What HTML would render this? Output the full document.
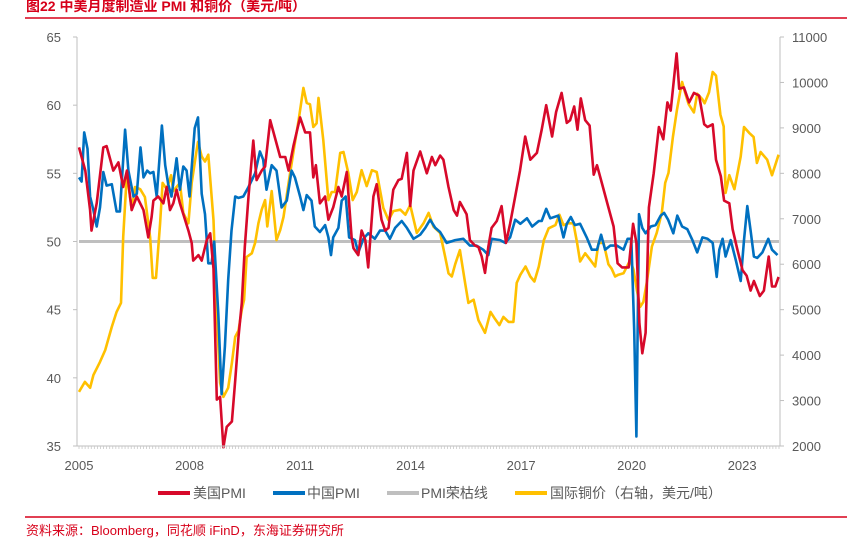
<!DOCTYPE html>
<html><head><meta charset="utf-8">
<style>
body{margin:0;background:#fff;width:847px;height:544px;overflow:hidden;font-family:"Liberation Sans","Noto Sans CJK SC",sans-serif;}
svg text{font-family:"Liberation Sans","Noto Sans CJK SC",sans-serif;}
</style></head><body>
<svg id="chart" width="847" height="544" xmlns="http://www.w3.org/2000/svg">
<text x="26" y="11" font-size="14" font-weight="bold" fill="#d7001a">图22  中美月度制造业 PMI 和铜价（美元/吨）</text>
<line x1="25" y1="18" x2="847" y2="18" stroke="#d7001a" stroke-width="1.5"/>
<g id="grid"></g><g id="series"></g><g id="axes"></g>
<g font-size="14" fill="#595959">
<g><line x1="158" y1="493" x2="190" y2="493" stroke="#d7092a" stroke-width="4"/><text x="193" y="498" fill="#595959">美国PMI</text></g>
<g><line x1="273" y1="493" x2="305" y2="493" stroke="#0070c0" stroke-width="4"/><text x="307" y="498" fill="#595959">中国PMI</text></g>
<g><line x1="387" y1="493" x2="419" y2="493" stroke="#bfbfbf" stroke-width="4"/><text x="421" y="498" fill="#595959">PMI荣枯线</text></g>
<g><line x1="515" y1="493" x2="547" y2="493" stroke="#ffc000" stroke-width="4"/><text x="550" y="498" fill="#595959">国际铜价（右轴，美元/吨）</text></g>
</g>
<line x1="25" y1="517" x2="847" y2="517" stroke="#d7001a" stroke-width="1.5"/>
<text x="26" y="535" font-size="13" fill="#d7001a">资料来源：Bloomberg，同花顺 iFinD，东海证券研究所</text>
</svg>
<script>
const xTickLabels=[2005,2008,2011,2014,2017,2020,2023];
const leftTicks=[35,40,45,50,55,60,65];
const rightTicks=[2000,3000,4000,5000,6000,7000,8000,9000,10000,11000];
const thresholdValue=50;
const usDates=[2005.0,2005.17,2005.3,2005.34,2005.48,2005.66,2005.75,2005.93,2006.07,2006.2,2006.3,2006.43,2006.57,2006.75,2006.88,2006.97,2007.02,2007.15,2007.29,2007.38,2007.47,2007.56,2007.65,2007.74,2007.97,2008.06,2008.1,2008.24,2008.33,2008.47,2008.56,2008.65,2008.74,2008.83,2008.92,2009.01,2009.15,2009.24,2009.33,2009.42,2009.5,2009.6,2009.73,2009.82,2009.96,2010.05,2010.19,2010.32,2010.46,2010.6,2010.69,2010.82,2011.0,2011.14,2011.27,2011.36,2011.43,2011.54,2011.68,2011.77,2011.9,2012.04,2012.13,2012.27,2012.4,2012.45,2012.58,2012.67,2012.77,2012.85,2012.99,2013.08,2013.21,2013.31,2013.4,2013.53,2013.67,2013.76,2013.9,2013.99,2014.08,2014.26,2014.44,2014.58,2014.67,2014.8,2014.89,2015.03,2015.17,2015.26,2015.34,2015.52,2015.61,2015.75,2015.84,2015.93,2016.02,2016.11,2016.2,2016.34,2016.47,2016.59,2016.7,2016.84,2016.97,2017.11,2017.25,2017.43,2017.56,2017.68,2017.84,2017.95,2018.1,2018.24,2018.33,2018.44,2018.53,2018.62,2018.74,2018.86,2018.97,2019.06,2019.19,2019.37,2019.51,2019.62,2019.74,2019.92,2020.04,2020.13,2020.21,2020.29,2020.38,2020.47,2020.6,2020.74,2020.86,2020.97,2021.06,2021.22,2021.29,2021.42,2021.56,2021.69,2021.83,2021.97,2022.06,2022.2,2022.29,2022.42,2022.51,2022.65,2022.74,2022.87,2023.01,2023.12,2023.23,2023.32,2023.48,2023.59,2023.72,2023.81,2023.9,2023.99];
const usValues=[56.9,55.2,52.3,50.8,52.8,56.9,57.0,55.2,55.8,54.0,55.2,52.3,53.3,52.3,50.3,51.8,53.0,53.3,52.8,54.0,52.3,52.8,53.8,52.8,50.8,49.9,48.6,49.0,48.6,50.1,50.6,48.0,38.4,38.6,34.9,36.4,36.8,39.8,43.0,45.5,49.6,53.3,57.4,54.5,55.2,55.5,58.9,57.6,56.2,56.2,55.2,57.0,59.1,58.0,58.0,54.7,55.6,52.8,53.3,51.6,52.5,54.0,53.3,55.1,50.3,49.5,49.0,50.8,50.1,48.1,53.3,54.2,51.6,50.8,51.0,53.8,54.5,54.6,56.5,52.6,55.2,56.6,55.0,56.2,55.6,56.3,56.0,54.0,52.3,51.9,52.9,52.0,50.1,49.7,49.6,48.9,47.7,49.6,51.0,51.5,52.6,49.9,51.3,53.3,55.2,57.7,56.0,56.5,58.2,60.0,57.7,59.5,60.9,58.7,58.9,59.9,58.2,60.5,58.9,58.5,54.9,55.6,54.3,52.5,51.1,48.4,48.1,48.1,51.3,49.9,44.0,41.8,43.3,52.5,55.0,58.4,57.5,60.2,59.6,63.8,61.2,61.3,60.2,60.9,60.7,58.6,58.4,58.6,56.0,54.8,53.0,52.8,50.9,49.4,47.9,47.5,46.4,47.1,46.0,46.4,48.9,46.7,46.7,47.4];
const cnDates=[2005.0,2005.07,2005.14,2005.23,2005.3,2005.39,2005.48,2005.57,2005.66,2005.75,2005.89,2006.02,2006.11,2006.25,2006.34,2006.48,2006.57,2006.67,2006.75,2006.85,2006.93,2007.02,2007.11,2007.25,2007.34,2007.42,2007.51,2007.65,2007.74,2007.83,2007.92,2008.0,2008.14,2008.23,2008.33,2008.42,2008.51,2008.6,2008.67,2008.78,2008.87,2008.96,2009.05,2009.14,2009.24,2009.33,2009.46,2009.6,2009.78,2009.91,2010.0,2010.09,2010.23,2010.36,2010.5,2010.64,2010.77,2010.86,2011.0,2011.09,2011.18,2011.31,2011.4,2011.54,2011.68,2011.77,2011.84,2011.9,2012.04,2012.13,2012.24,2012.33,2012.49,2012.58,2012.72,2012.85,2013.03,2013.17,2013.31,2013.44,2013.58,2013.76,2013.9,2014.08,2014.26,2014.4,2014.53,2014.67,2014.8,2014.98,2015.21,2015.43,2015.61,2015.79,2015.97,2016.11,2016.2,2016.43,2016.57,2016.7,2016.84,2016.98,2017.16,2017.3,2017.48,2017.56,2017.68,2017.79,2018.01,2018.15,2018.24,2018.35,2018.46,2018.6,2018.78,2018.92,2019.06,2019.17,2019.28,2019.42,2019.6,2019.78,2019.89,2019.99,2020.07,2020.13,2020.2,2020.29,2020.38,2020.52,2020.65,2020.79,2020.88,2020.99,2021.13,2021.24,2021.37,2021.51,2021.65,2021.78,2021.92,2022.06,2022.2,2022.31,2022.38,2022.47,2022.55,2022.69,2022.83,2022.96,2023.05,2023.14,2023.23,2023.32,2023.41,2023.55,2023.71,2023.81,2023.96];
const cnValues=[54.7,54.4,58.0,56.8,53.3,52.3,51.1,52.5,55.1,54.1,54.2,52.2,52.2,58.2,55.2,53.3,53.5,56.9,54.7,55.2,55.0,55.1,53.3,58.5,55.6,54.2,53.3,56.1,53.8,55.5,55.2,53.3,58.3,59.1,53.5,52.0,48.4,48.4,50.0,44.7,38.8,42.3,47.2,50.8,53.3,53.2,53.3,54.0,55.0,56.6,56.0,53.8,55.6,55.2,52.5,53.0,55.2,54.7,53.3,52.3,53.4,53.0,51.1,50.7,51.2,50.3,49.0,50.3,51.0,53.0,53.3,50.3,50.1,49.2,50.2,50.6,50.2,50.8,50.8,50.2,51.0,51.5,51.0,50.2,50.5,51.0,51.6,51.0,50.7,49.9,50.1,50.2,49.7,49.7,49.4,49.0,50.2,50.1,49.9,50.3,51.6,51.3,51.7,51.1,51.5,51.5,52.4,51.7,51.9,50.3,51.3,51.8,51.2,51.3,50.3,49.4,49.4,50.5,49.4,49.7,49.7,49.4,50.2,50.2,43.5,35.7,52.0,51.0,50.6,51.1,51.2,51.9,52.1,51.6,50.6,51.9,51.1,50.9,50.1,49.2,50.3,50.2,49.9,47.4,49.4,50.2,48.9,50.1,48.6,47.1,50.1,52.6,50.8,48.9,48.8,49.2,50.2,49.4,49.0];
const cuDates=[2005.0,2005.16,2005.3,2005.39,2005.57,2005.71,2005.89,2006.02,2006.14,2006.2,2006.3,2006.43,2006.52,2006.66,2006.79,2006.93,2007.0,2007.09,2007.2,2007.27,2007.38,2007.5,2007.56,2007.65,2007.74,2007.83,2007.97,2008.06,2008.18,2008.23,2008.33,2008.42,2008.51,2008.65,2008.74,2008.83,2008.92,2009.05,2009.15,2009.24,2009.33,2009.42,2009.48,2009.55,2009.69,2009.78,2009.87,2009.96,2010.05,2010.11,2010.23,2010.36,2010.46,2010.55,2010.69,2010.82,2010.96,2011.09,2011.18,2011.27,2011.36,2011.45,2011.5,2011.63,2011.77,2011.86,2011.95,2012.09,2012.18,2012.31,2012.43,2012.54,2012.67,2012.81,2012.95,2013.08,2013.26,2013.4,2013.53,2013.72,2013.86,2013.99,2014.17,2014.35,2014.49,2014.62,2014.8,2014.94,2015.03,2015.12,2015.21,2015.34,2015.48,2015.57,2015.71,2015.84,2016.02,2016.17,2016.29,2016.41,2016.52,2016.66,2016.79,2016.88,2016.98,2017.12,2017.25,2017.36,2017.48,2017.62,2017.75,2017.93,2018.04,2018.15,2018.29,2018.42,2018.52,2018.6,2018.74,2018.88,2019.01,2019.1,2019.24,2019.37,2019.46,2019.55,2019.64,2019.78,2019.96,2020.05,2020.14,2020.23,2020.32,2020.41,2020.55,2020.68,2020.82,2020.91,2021.0,2021.12,2021.23,2021.32,2021.37,2021.46,2021.55,2021.69,2021.78,2021.92,2021.98,2022.1,2022.2,2022.29,2022.41,2022.5,2022.55,2022.65,2022.79,2022.96,2023.05,2023.19,2023.31,2023.4,2023.5,2023.68,2023.81,2023.99];
const cuValues=[3190,3410,3280,3560,3850,4110,4620,4950,5150,6600,8010,7200,7700,7650,7480,6600,5700,5700,6900,7790,7650,7960,7610,7700,7790,7130,6900,7790,8450,8690,8370,8260,8410,6970,4930,3390,3080,3280,3830,4400,4540,5000,5220,6160,6240,6470,6900,7200,7410,6830,7610,6530,6750,7040,7790,8470,9170,9880,9550,9520,9020,9100,9660,8730,7410,7590,7590,8450,8470,8010,7410,7590,8070,7720,8070,8030,7240,6970,7170,7200,7090,7300,6690,6900,7130,6830,6690,6160,5800,5730,6000,6310,5590,5150,5220,4770,4490,4950,4800,4660,4840,4730,4730,5590,5770,5950,5730,5620,5950,6530,6790,6860,7090,6860,6900,6900,6470,6060,6240,6090,5950,6470,6470,6000,5900,5730,5770,5800,6090,5880,5440,5060,5170,5590,6390,6690,7130,7790,8010,8800,9390,9810,10010,9750,9520,9340,9750,9630,9540,9780,10230,10150,9290,9030,7570,7960,7650,8370,9020,8890,8800,8230,8470,8300,7960,8410];

const X0=79,X1=779,Y0=37,Y1=446,T0=2005,T1=2024;
const xScale=t=>X0+(t-T0)/(T1-T0)*(X1-X0);
const yL=v=>Y1-(v-35)/30*(Y1-Y0);
const yR=v=>Y1-(v-2000)/9000*(Y1-Y0);
const NS='http://www.w3.org/2000/svg';
function mk(tag,attrs,parent){const e=document.createElementNS(NS,tag);for(const k in attrs)e.setAttribute(k,attrs[k]);parent.appendChild(e);return e;}
const axes=document.getElementById('axes'),series=document.getElementById('series');

const thr=mk('line',{x1:X0,x2:X1,y1:yL(thresholdValue),y2:yL(thresholdValue),stroke:'#bfbfbf','stroke-width':3},series);



function drawLine(dates,vals,yf,color,name){
  const d=dates.map((t,i)=>(i?'L':'M')+xScale(t).toFixed(1)+' '+yf(vals[i]).toFixed(1)).join(' ');
  const p=mk('path',{d:d,fill:'none',stroke:color,'stroke-width':2.6,'stroke-linejoin':'round'},series);
  
  
}
drawLine(cuDates,cuValues,yR,'#ffc000','copper-price-line');
drawLine(cnDates,cnValues,yL,'#0070c0','china-pmi-line');
drawLine(usDates,usValues,yL,'#d7092a','us-pmi-line');

const la=mk('line',{x1:77,x2:77,y1:Y0,y2:Y1,stroke:'#bfbfbf','stroke-width':1},axes);


const ra=mk('line',{x1:X1+1,x2:X1+1,y1:Y0,y2:Y1,stroke:'#bfbfbf','stroke-width':1},axes);


const xa=mk('line',{x1:77,x2:X1+1,y1:Y1,y2:Y1,stroke:'#bfbfbf','stroke-width':1},axes);


for(let m=0;m<=(T1-T0)*12;m++){
  const x=xScale(T0+m/12);
  mk('line',{x1:x,x2:x,y1:Y1,y2:Y1+3,stroke:'#c8c8c8','stroke-width':0.8},axes);
}
leftTicks.forEach(v=>{
  mk('line',{x1:73,x2:77,y1:yL(v),y2:yL(v),stroke:'#bfbfbf'},axes);
  const t=mk('text',{x:61,y:yL(v)+5,'text-anchor':'end','font-size':13,fill:'#595959'},axes);
  t.textContent=v;
  
  
});
rightTicks.forEach(v=>{
  mk('line',{x1:X1+1,x2:X1+5,y1:yR(v),y2:yR(v),stroke:'#bfbfbf'},axes);
  const t=mk('text',{x:792,y:yR(v)+5,'font-size':13,fill:'#595959'},axes);
  t.textContent=v;
  
  
});
xTickLabels.forEach(v=>{
  const t=mk('text',{x:xScale(v),y:470,'text-anchor':'middle','font-size':13,fill:'#595959'},axes);
  t.textContent=v;
  
  
});
</script>
</body></html>
